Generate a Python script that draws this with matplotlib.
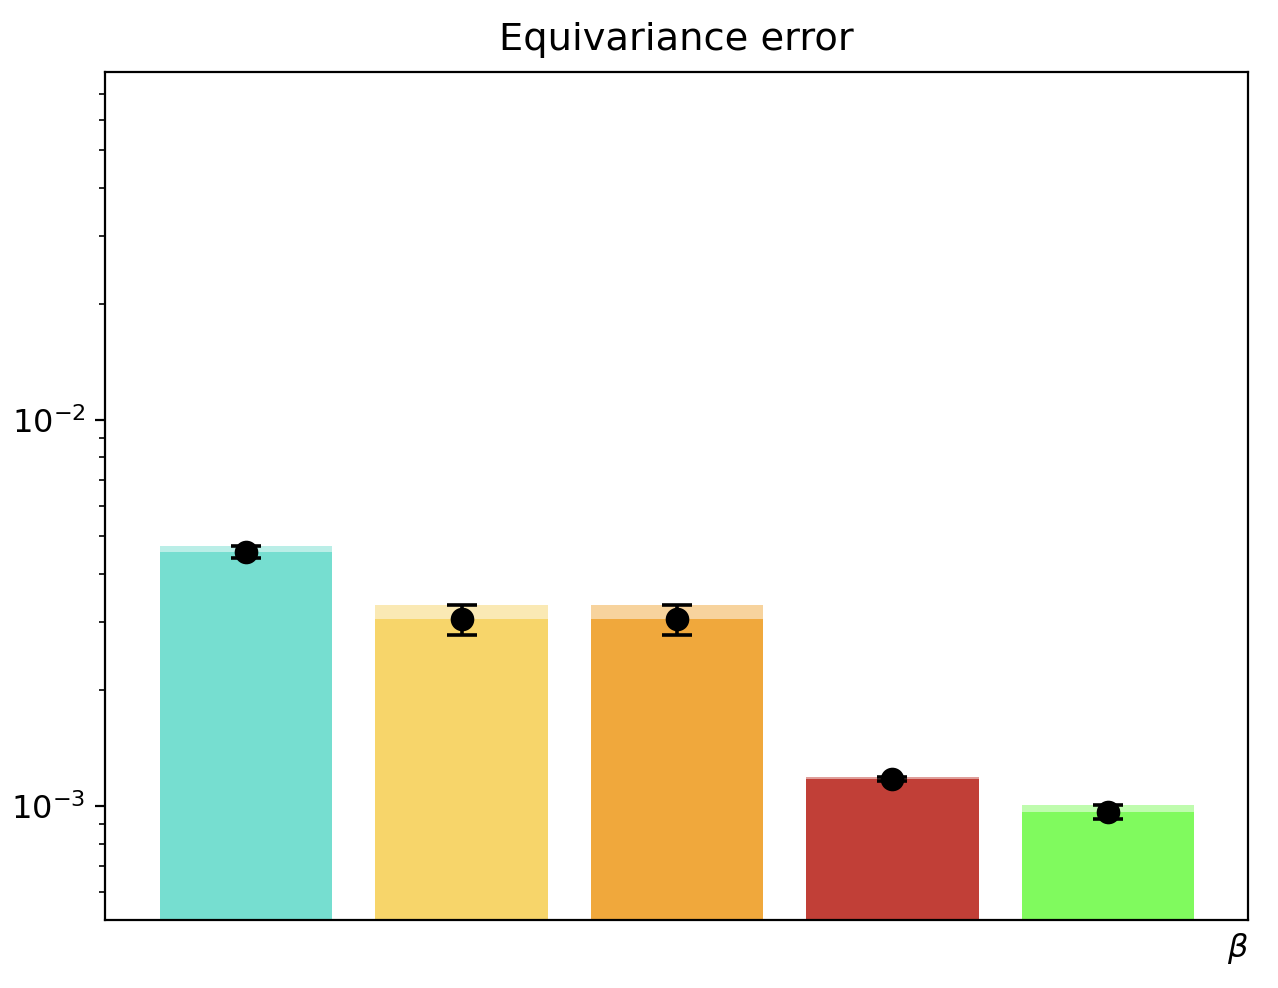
import matplotlib
matplotlib.use("Agg")
import matplotlib.pyplot as plt
import numpy as np

# data
categories = ["b1", "b2", "b3", "b4", "b5"]
means = [4.55e-3, 3.05e-3, 3.05e-3, 1.175e-3, 0.965e-3]
stds = [0.17e-3, 0.27e-3, 0.27e-3, 0.015e-3, 0.04e-3]
colors = ["#76DED0", "#F7D56A", "#F0A83C", "#C13F37", "#80FA5E"]

fig = plt.figure(figsize=(6.39, 4.94), dpi=200)
ax = fig.add_axes([105/1278, 1-920/988, (1248-105)/1278, (920-72)/988])

x = np.arange(len(categories))
upper = [m + s for m, s in zip(means, stds)]
ax.bar(x, upper, width=0.8, color=colors, alpha=0.5)
ax.bar(x, means, width=0.8, color=colors)
ax.errorbar(x, means, yerr=stds, fmt='o', color='black', markersize=7.5,
            capsize=5.5, capthick=1.3, elinewidth=1.3)

ax.set_yscale('log')
ax.set_ylim(5.07e-4, 0.0797)
ax.set_xlim(-0.655, 4.65)
ax.set_xticks([])
ax.tick_params(axis='y', labelsize=11.5)
ax.set_title("Equivariance error", fontsize=13.8, pad=8)
ax.set_xlabel(r"$\beta$", loc='right', fontsize=11.5)

fig.savefig("out.png", dpi=200)
